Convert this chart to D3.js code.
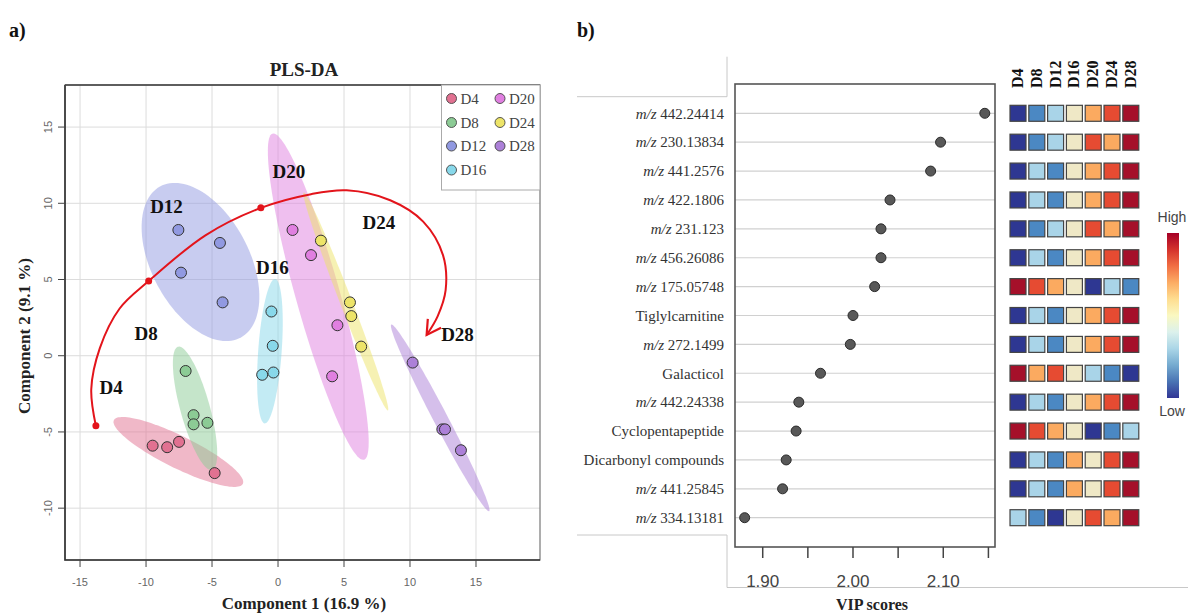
<!DOCTYPE html>
<html><head><meta charset="utf-8">
<script src="https://cdn.jsdelivr.net/npm/d3@7"></script>
<style>body{margin:0;background:#fff;} svg{display:block;}</style>
</head><body>
<svg id="chart" width="1188" height="613"></svg>
<script>
// ================= Panel a: PLS-DA scores =================
const groups = ["D4","D8","D12","D16","D20","D24","D28"];
const scoreGroup = ["D4","D4","D4","D4","D8","D8","D8","D8","D12","D12","D12","D12",
  "D16","D16","D16","D16","D20","D20","D20","D20","D24","D24","D24","D24","D28","D28","D28","D28"];
const scoreComp1 = [-9.5,-8.4,-7.5,-4.8, -7.0,-6.4,-6.4,-5.35, -7.55,-4.4,-7.35,-4.2,
  -0.5,-0.4,-1.2,-0.35, 1.1,2.5,4.5,4.1, 3.25,5.45,5.55,6.3, 10.2,12.45,12.65,13.86];
const scoreComp2 = [-5.9,-6.0,-5.65,-7.7, -1.0,-3.9,-4.5,-4.4, 8.25,7.4,5.45,3.5,
  2.9,0.65,-1.25,-1.1, 8.25,6.6,2.0,-1.35, 7.55,3.5,2.6,0.6, -0.45,-4.83,-4.83,-6.2];
const xTicks = [-15,-10,-5,0,5,10,15];
const yTicks = [-10,-5,0,5,10,15];
const legendRows1 = ["D4","D8","D12","D16"];
const legendRows2 = ["D20","D24","D28"];
// trajectory annotation (data coordinates)
const trajC1 = [-13.8,-14.15,-13.5,-12.0,-9.8,-5.5,-1.3,2.5,5.2,8.5,11.0,12.5,12.7,12.1,11.26];
const trajC2 = [-4.6,-2.2,0.5,3.1,4.9,7.9,9.7,10.6,10.85,10.2,8.8,6.6,4.3,2.6,1.36];
const trajDotC1 = [-13.8,-9.8,-1.3];
const trajDotC2 = [-4.6,4.9,9.7];
const groupLabelC1 = [-12.65,-10.0,-8.45,-0.42,0.83,7.64,13.6];
const groupLabelC2 = [-2.07,1.47,9.8,5.8,12.07,8.73,1.4];

// ================= Panel b: VIP scores =================
const vipFeatures = ["m/z 442.24414","m/z 230.13834","m/z 441.2576","m/z 422.1806","m/z 231.123",
  "m/z 456.26086","m/z 175.05748","Tiglylcarnitine","m/z 272.1499","Galacticol","m/z 442.24338",
  "Cyclopentapeptide","Dicarbonyl compounds","m/z 441.25845","m/z 334.13181"];
const vipScores = [2.146,2.097,2.086,2.041,2.031,2.031,2.024,2.000,1.997,1.964,1.940,1.937,1.926,1.922,1.880];
const vipTicks = [1.90,1.95,2.00,2.05,2.10,2.15];
const vipTickLabels = ["1.90","","2.00","","2.10",""];
const heatLevels = [
  [1,2,3,4,5,6,7],[1,2,3,4,6,5,7],[1,3,2,4,5,6,7],[1,3,2,4,5,6,7],[1,2,3,4,6,5,7],
  [1,3,2,4,5,6,7],[7,6,5,4,1,3,2],[1,3,2,4,5,6,7],[1,3,2,4,5,6,7],[7,5,6,4,3,2,1],
  [1,3,2,4,5,6,7],[7,6,5,4,1,2,3],[1,3,2,5,4,6,7],[1,3,2,5,4,6,7],[3,2,1,4,6,5,7]];

// ---------------- styles ----------------
const groupColors = {D4:"#E17191",D8:"#8CCB95",D12:"#9199E1",D16:"#88D8EA",D20:"#E07FE0",D24:"#EDE468",D28:"#AC80D8"};
const heatPalette = ["#2E3792","#4B88C3","#A9D4E8","#EFE8C6","#FBAA60","#E64B32","#A5102A"];
const SERIF = "'Liberation Serif','Times New Roman',serif";
const SANS = "'Liberation Sans',Arial,sans-serif";

const svg = d3.select("#chart");

// ================= draw panel a =================
const x = d3.scaleLinear().domain([-16.14,19.85]).range([65,540]);
const y = d3.scaleLinear().domain([-13.4,17.76]).range([560,85]);
const gA = svg.append("g");

// grid
gA.selectAll(".gx").data(xTicks).join("line").attr("x1",d=>x(d)).attr("x2",d=>x(d))
  .attr("y1",85).attr("y2",560).attr("stroke","#dcdcdc").attr("stroke-width",1);
gA.selectAll(".gy").data(yTicks).join("line").attr("y1",d=>y(d)).attr("y2",d=>y(d))
  .attr("x1",65).attr("x2",540).attr("stroke","#dcdcdc").attr("stroke-width",1);

// ellipses (95% confidence from group covariance)
const pts = scoreGroup.map((g,i)=>({g, c1:scoreComp1[i], c2:scoreComp2[i]}));
const tConf = Math.sqrt(-2*Math.log(0.05)); // sqrt(qchisq(.95,2))
groups.forEach(g=>{
  const p = pts.filter(d=>d.g===g);
  const n = p.length;
  const mx = d3.mean(p,d=>d.c1), my = d3.mean(p,d=>d.c2);
  const sxx = d3.sum(p,d=>(d.c1-mx)**2)/(n-1);
  const syy = d3.sum(p,d=>(d.c2-my)**2)/(n-1);
  const sxy = d3.sum(p,d=>(d.c1-mx)*(d.c2-my))/(n-1);
  const tr = sxx+syy, det = sxx*syy-sxy*sxy;
  const l1 = tr/2+Math.sqrt(tr*tr/4-det), l2 = tr/2-Math.sqrt(tr*tr/4-det);
  let v1 = Math.abs(sxy)>1e-12 ? [l1-syy, sxy] : (sxx>=syy?[1,0]:[0,1]);
  const nv = Math.hypot(v1[0],v1[1]); v1=[v1[0]/nv,v1[1]/nv];
  const v2 = [-v1[1], v1[0]];
  const a = tConf*Math.sqrt(l1), b = tConf*Math.sqrt(Math.max(l2,0));
  const ring = d3.range(0,361,3).map(deg=>{
    const th = deg*Math.PI/180;
    const ex = mx + a*Math.cos(th)*v1[0] + b*Math.sin(th)*v2[0];
    const ey = my + a*Math.cos(th)*v1[1] + b*Math.sin(th)*v2[1];
    return [x(ex), y(ey)];
  });
  gA.append("path").attr("d", d3.line()(ring)+"Z")
    .attr("fill", groupColors[g]).attr("fill-opacity",0.5).attr("stroke","none");
});

// box
gA.append("rect").attr("x",65).attr("y",85).attr("width",475).attr("height",475)
  .attr("fill","none").attr("stroke","#777").attr("stroke-width",1.2);
gA.append("path").attr("d","M65,85V560H540").attr("fill","none").attr("stroke","#333").attr("stroke-width",1.6);
gA.append("line").attr("x1",65).attr("x2",540).attr("y1",85).attr("y2",85).attr("stroke","#444").attr("stroke-width",1.4);

// ticks
gA.selectAll(".tx").data(xTicks).join("line").attr("x1",d=>x(d)).attr("x2",d=>x(d))
  .attr("y1",560).attr("y2",567).attr("stroke","#444");
gA.selectAll(".tlx").data(xTicks).join("text").attr("x",d=>x(d)).attr("y",586)
  .attr("text-anchor","middle").attr("font-family",SANS).attr("font-size",11).attr("fill","#666")
  .text(d=>d);
gA.selectAll(".ty").data(yTicks).join("line").attr("y1",d=>y(d)).attr("y2",d=>y(d))
  .attr("x1",58).attr("x2",65).attr("stroke","#444");
gA.selectAll(".tly").data(yTicks).join("text")
  .attr("transform",d=>`translate(52,${y(d)}) rotate(-90)`)
  .attr("text-anchor","middle").attr("font-family",SANS).attr("font-size",11).attr("fill","#666")
  .text(d=>d);

// axis titles
gA.append("text").attr("x",304).attr("y",609).attr("text-anchor","middle")
  .attr("font-family",SERIF).attr("font-weight","bold").attr("font-size",17).attr("fill","#222")
  .text("Component 1 (16.9 %)");
gA.append("text").attr("transform","translate(30,336) rotate(-90)").attr("text-anchor","middle")
  .attr("font-family",SERIF).attr("font-weight","bold").attr("font-size",17).attr("fill","#222")
  .text("Component 2 (9.1 %)");
gA.append("text").attr("x",304).attr("y",76).attr("text-anchor","middle")
  .attr("font-family",SERIF).attr("font-weight","bold").attr("font-size",19).attr("fill","#222")
  .text("PLS-DA");

// trajectory arrow
svg.append("defs").append("marker").attr("id","arrow").attr("markerUnits","userSpaceOnUse")
  .attr("viewBox","-2 -10 18 20").attr("refX",14).attr("refY",0)
  .attr("markerWidth",18).attr("markerHeight",20).attr("orient","auto")
  .append("path").attr("d","M0,-8L14,0L0,8").attr("fill","none").attr("stroke","#E3141B").attr("stroke-width",2.2);
const traj = trajC1.map((c,i)=>[x(c), y(trajC2[i])]);
gA.append("path").attr("d", d3.line().curve(d3.curveCatmullRom.alpha(0.5))(traj))
  .attr("fill","none").attr("stroke","#E3141B").attr("stroke-width",2).attr("marker-end","url(#arrow)");
gA.selectAll(".tdot").data(trajDotC1).join("circle").attr("cx",d=>x(d)).attr("cy",(d,i)=>y(trajDotC2[i]))
  .attr("r",3.5).attr("fill","#E3141B");

// points
gA.selectAll(".pt").data(pts).join("circle").attr("cx",d=>x(d.c1)).attr("cy",d=>y(d.c2))
  .attr("r",5.5).attr("fill",d=>groupColors[d.g]).attr("stroke","#333").attr("stroke-width",1);

// group labels
gA.selectAll(".glab").data(groups).join("text").attr("x",(d,i)=>x(groupLabelC1[i]))
  .attr("y",(d,i)=>y(groupLabelC2[i])).attr("dy","0.35em").attr("text-anchor","middle")
  .attr("font-family",SERIF).attr("font-weight","bold").attr("font-size",19).attr("fill","#111")
  .text(d=>d);

// legend
const leg = gA.append("g");
leg.append("rect").attr("x",441.5).attr("y",85).attr("width",98.5).attr("height",105)
  .attr("fill","#fff").attr("stroke","#aaa").attr("stroke-width",1);
const legRowY = [98.5,122.5,146,170];
[legendRows1, legendRows2].forEach((col,ci)=>{
  const cx = ci===0 ? 451.5 : 500;
  col.forEach((g,ri)=>{
    leg.append("circle").attr("cx",cx).attr("cy",legRowY[ri]).attr("r",5)
      .attr("fill",groupColors[g]).attr("stroke","#444").attr("stroke-width",0.9);
    leg.append("text").attr("x",cx+9).attr("y",legRowY[ri]).attr("dy","0.35em")
      .attr("font-family",SERIF).attr("font-size",15).attr("fill","#444").text(g);
  });
});

// panel letters
svg.append("text").attr("x",9).attr("y",37).attr("font-family",SERIF).attr("font-weight","bold")
  .attr("font-size",20).attr("fill","#111").text("a)");
svg.append("text").attr("x",577).attr("y",37).attr("font-family",SERIF).attr("font-weight","bold")
  .attr("font-size",20).attr("fill","#111").text("b)");

// ================= draw panel b =================
const gB = svg.append("g");
// frame lines from the composed figure
const frame = "M577,96.7H727V56.7 M577,535H727V587.5H1188";
gB.append("path").attr("d",frame).attr("fill","none").attr("stroke","#c8c8c8").attr("stroke-width",1);

const vx = d3.scaleLinear().domain([1.8693,2.1573]).range([735,995]);
const vy = d3.scalePoint().domain(vipFeatures).range([113.3,517.7]);

gB.selectAll(".vg").data(vipFeatures).join("line").attr("x1",735).attr("x2",995)
  .attr("y1",d=>vy(d)).attr("y2",d=>vy(d)).attr("stroke","#d0d0d0").attr("stroke-width",1.2);
gB.append("rect").attr("x",735).attr("y",84).attr("width",260).attr("height",463)
  .attr("fill","none").attr("stroke","#555").attr("stroke-width",1.6);
gB.selectAll(".vt").data(vipTicks).join("line").attr("x1",d=>vx(d)).attr("x2",d=>vx(d))
  .attr("y1",547).attr("y2",558).attr("stroke","#444").attr("stroke-width",1.5);
gB.selectAll(".vtl").data(vipTicks).join("text").attr("x",d=>vx(d)).attr("y",587)
  .attr("text-anchor","middle").attr("font-family",SANS).attr("font-size",17).attr("fill","#444")
  .text((d,i)=>vipTickLabels[i]);
gB.append("text").attr("x",872).attr("y",610).attr("text-anchor","middle")
  .attr("font-family",SERIF).attr("font-weight","bold").attr("font-size",16).attr("fill","#222")
  .text("VIP scores");

// feature labels
gB.selectAll(".fl").data(vipFeatures).join("text").attr("x",724).attr("y",d=>vy(d)).attr("dy","0.35em")
  .attr("text-anchor","end").attr("font-family",SERIF).attr("font-size",15).attr("fill","#333")
  .each(function(d){
    const t = d3.select(this);
    if (d.startsWith("m/z ")) {
      t.append("tspan").attr("font-style","italic").text("m/z");
      t.append("tspan").text(" "+d.slice(4));
    } else t.text(d);
  });

// dots
gB.selectAll(".vd").data(vipFeatures).join("circle").attr("cx",(d,i)=>vx(vipScores[i])).attr("cy",d=>vy(d))
  .attr("r",5).attr("fill","#585858").attr("stroke","#2a2a2a").attr("stroke-width",1);

// heatmap
const hx = d3.scaleBand().domain(groups).range([1008.6,1140.2]).paddingInner(0.15).paddingOuter(0.075);
const cells = [];
vipFeatures.forEach((f,i)=>groups.forEach((g,j)=>cells.push({f,g,lv:heatLevels[i][j]})));
gB.selectAll(".hc").data(cells).join("rect").attr("x",d=>hx(d.g)).attr("y",d=>vy(d.f)-hx.bandwidth()/2)
  .attr("width",hx.bandwidth()).attr("height",hx.bandwidth())
  .attr("fill",d=>heatPalette[d.lv-1]).attr("stroke","#444").attr("stroke-width",1.2);
gB.selectAll(".hl").data(groups).join("text")
  .attr("transform",d=>`translate(${hx(d)+hx.bandwidth()/2+5},88) rotate(-90)`)
  .attr("font-family",SERIF).attr("font-weight","bold").attr("font-size",16).attr("fill","#111")
  .text(d=>d);

// colour key
const grad = svg.select("defs").append("linearGradient").attr("id","rdylbu")
  .attr("x1",0).attr("x2",0).attr("y1",0).attr("y2",1);
d3.range(0,1.0001,0.1).forEach(o=>grad.append("stop").attr("offset",o).attr("stop-color",d3.interpolateRdYlBu(o)));
gB.append("rect").attr("x",1167).attr("y",233).attr("width",12).attr("height",165).attr("fill","url(#rdylbu)");
gB.append("text").attr("x",1172).attr("y",222).attr("text-anchor","middle").attr("font-family",SANS)
  .attr("font-size",14).attr("fill","#444").text("High");
gB.append("text").attr("x",1172).attr("y",416).attr("text-anchor","middle").attr("font-family",SANS)
  .attr("font-size",14).attr("fill","#444").text("Low");
</script>
</body></html>
